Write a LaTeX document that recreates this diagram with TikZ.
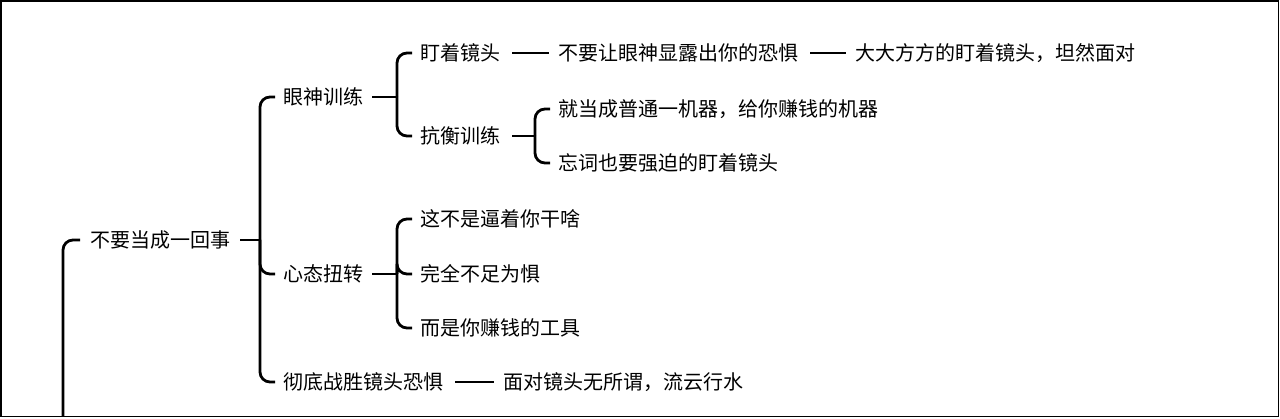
\documentclass[tikz,border=0pt]{standalone}
\usepackage{fontspec}
\setmainfont{Noto Sans CJK SC}
\usetikzlibrary{positioning}

\begin{document}
\begin{tikzpicture}[
  x=1pt, y=1pt,
  topic/.style={anchor=west, inner sep=0pt, outer sep=0pt,
    font=\fontsize{20}{24}\selectfont},
  branch/.style={line width=2.8pt, rounded corners=10pt},
  frame/.style={line width=1.6pt}
]
% 1280 by 418 canvas, the outline sits just inside it.
\path[use as bounding box] (0,0) rectangle (1280,418);
\draw[frame] (0.8,1.4) rectangle (1278.4,417.2);

% Topics, west edge and middle height per row.
\node[topic] (root) at (90,178) {不要当成一回事};
\node[topic] (eye) at (283,321) {眼神训练};
\node[topic] (mind) at (283,144) {心态扭转};
\node[topic] (beat) at (283,36) {彻底战胜镜头恐惧};
\node[topic] (stare) at (420,365) {盯着镜头};
\node[topic] (hide) at (558,365) {不要让眼神显露出你的恐惧};
\node[topic] (calm) at (855,365) {大大方方的盯着镜头，坦然面对};
\node[topic] (resist) at (420,282) {抗衡训练};
\node[topic] (machine) at (558,309) {就当成普通一机器，给你赚钱的机器};
\node[topic] (forget) at (558,255) {忘词也要强迫的盯着镜头};
\node[topic] (notforce) at (420,199) {这不是逼着你干啥};
\node[topic] (nofear) at (420,144) {完全不足为惧};
\node[topic] (tool) at (420,90) {而是你赚钱的工具};
\node[topic] (flow) at (503,36) {面对镜头无所谓，流云行水};

% Trunk junctions of the brackets.
\coordinate (base) at (63,1.4);
\coordinate (j-root) at (260,178);
\coordinate (j-eye) at (397,321);
\coordinate (j-resist) at (535,282);
\coordinate (j-mind) at (397,144);

% The parent above the picture edge.
\draw[branch] (base) |- ([xshift=-10pt]root.west);

% Brackets: one stub from the parent, one rounded branch per child.
\draw[branch] ([xshift=10pt]root.east) -- (j-root);
\foreach \c in {eye,mind,beat}
  \draw[branch] (j-root) |- ([xshift=-8pt]\c.west);

\draw[branch] ([xshift=9pt]eye.east) -- (j-eye);
\foreach \c in {stare,resist}
  \draw[branch] (j-eye) |- ([xshift=-8pt]\c.west);

\draw[branch] ([xshift=12pt]resist.east) -- (j-resist);
\foreach \c in {machine,forget}
  \draw[branch] (j-resist) |- ([xshift=-8pt]\c.west);

\draw[branch] ([xshift=9pt]mind.east) -- (j-mind);
\foreach \c in {notforce,nofear,tool}
  \draw[branch] (j-mind) |- ([xshift=-8pt]\c.west);

% Single-child links.
\draw[branch] ([xshift=12pt]stare.east) -- ([xshift=-9pt]hide.west);
\draw[branch] ([xshift=12pt]hide.east) -- ([xshift=-9pt]calm.west);
\draw[branch] ([xshift=12pt]beat.east) -- ([xshift=-9pt]flow.west);
\end{tikzpicture}
\end{document}
